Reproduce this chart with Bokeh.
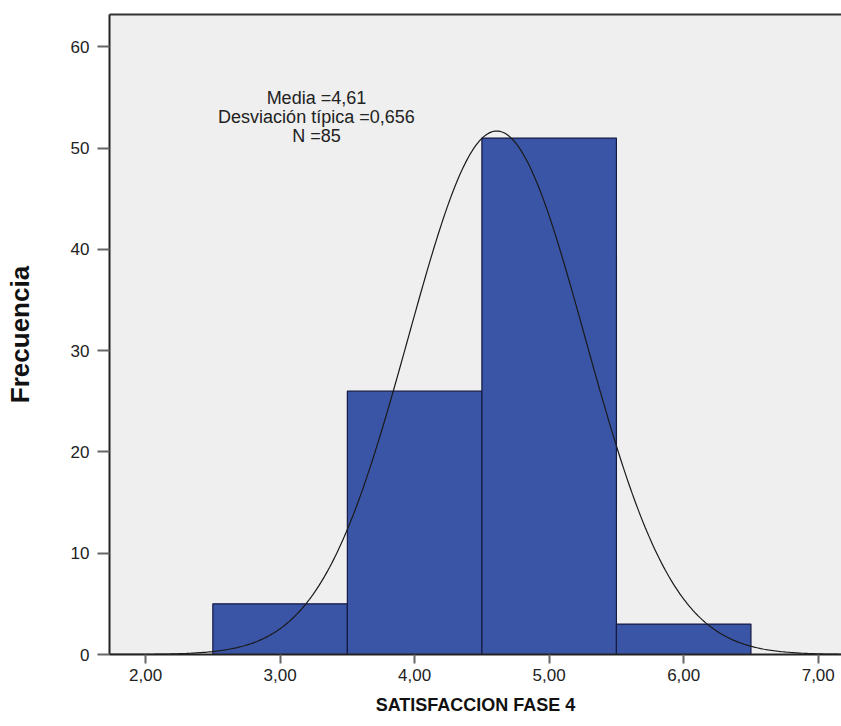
import numpy as np
from bokeh.plotting import figure
from bokeh.models import FixedTicker, Range1d, ColumnDataSource, LinearAxis
from bokeh.core.properties import value
from bokeh.embed import file_html
from bokeh.resources import INLINE

# Histogram data: SATISFACCION FASE 4
bin_left = [2.5, 3.5, 4.5, 5.5]
bin_right = [3.5, 4.5, 5.5, 6.5]
counts = [5, 26, 51, 3]

mean = 4.61
sd = 0.656
n = 85
bin_width = 1.0

x_ticks = [2, 3, 4, 5, 6, 7]
x_tick_labels = ["2,00", "3,00", "4,00", "5,00", "6,00", "7,00"]
y_ticks = [0, 10, 20, 30, 40, 50, 60]

stats_lines = ["Media =4,61", "Desviación típica =0,656", "N =85"]

X0, X1 = 1.732, 7.173
Y0, Y1 = 0, 63.2

p = figure(width=841, height=726, output_backend="svg", toolbar_location=None,
           x_range=Range1d(X0, X1), y_range=Range1d(Y0, Y1),
           min_border_left=109, min_border_right=0, min_border_top=14,
           min_border_bottom=72)
p.background_fill_color = "#efefef"
p.border_fill_color = "white"
p.outline_line_color = None
p.grid.visible = False

src = ColumnDataSource(dict(left=bin_left, right=bin_right, top=counts,
                            bottom=[0] * len(counts)))
p.quad(left="left", right="right", top="top", bottom="bottom", source=src,
       fill_color="#3a55a6", line_color="#141a44", line_width=1.2)

# Normal curve scaled to the histogram
xs = np.linspace(X0, X1, 400)
ys = n * bin_width / (sd * np.sqrt(2 * np.pi)) * np.exp(-0.5 * ((xs - mean) / sd) ** 2)
p.line(xs, ys, line_color="#1a1a1a", line_width=1.2)

# Summary statistics
p.text(x=[3.27] * 3, y=[54.95, 53.05, 51.25], text=stats_lines,
       text_align="center", text_baseline="middle",
       text_font=value("Liberation Sans"), text_font_size="18px",
       text_color="#222222")

# Top frame line only
top_axis = LinearAxis(ticker=FixedTicker(ticks=[]), axis_line_color="#333333",
                      axis_line_width=2, major_tick_out=0, major_tick_in=0,
                      minor_tick_out=0, minor_tick_in=0,
                      major_label_text_font_size="0px")
p.add_layout(top_axis, "above")

xa = p.below[0]
ya = p.left[0]

for ax in (xa, ya):
    ax.axis_line_color = "#222222"
    ax.axis_line_width = 2
    ax.major_tick_line_color = "#666666"
    ax.major_tick_line_width = 2
    ax.minor_tick_line_color = None
    ax.major_tick_in = 0
    ax.major_label_text_font = "Liberation Sans"
    ax.major_label_text_font_size = "17px"
    ax.major_label_text_color = "#222222"
    ax.axis_label_text_font = "Liberation Sans"
    ax.axis_label_text_font_style = "bold"
    ax.axis_label_text_color = "#111111"

xa.ticker = FixedTicker(ticks=x_ticks)
xa.major_label_overrides = {t: l for t, l in zip(x_ticks, x_tick_labels)}
xa.major_tick_out = 9
xa.major_label_standoff = 5
xa.axis_label = "SATISFACCION FASE 4"
xa.axis_label_text_font_size = "18px"
xa.axis_label_standoff = 11

ya.ticker = FixedTicker(ticks=y_ticks)
ya.major_tick_out = 12
ya.major_label_standoff = 8
ya.axis_label = "Frecuencia"
ya.axis_label_text_font_size = "26px"
ya.axis_label_standoff = 33

open("out.html", "w").write(file_html(p, INLINE))
